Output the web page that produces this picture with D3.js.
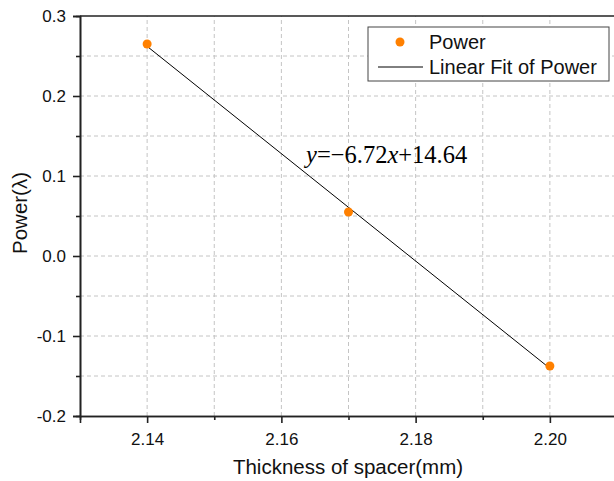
<!DOCTYPE html>
<meta charset="utf-8">
<style>
body { margin: 0; background: #fff; }
text { font-family: Arial, "Liberation Sans", sans-serif; }
</style>
<svg width="614" height="481"></svg>
<script src="https://cdn.jsdelivr.net/npm/d3@7"></script>
<script>

var thickness = [2.14, 2.17, 2.20],
    power = [0.265, 0.055, -0.1375];
var xTicks = [2.14, 2.16, 2.18, 2.20],
    yTicks = [-0.2, -0.1, 0.0, 0.1, 0.2, 0.3];
var legendLabels = ["Power", "Linear Fit of Power"];

var svg = d3.select("svg"),
    margin = {top: 16, left: 80, bottom: 65},
    height = +svg.attr("height") - margin.top - margin.bottom;

var x = d3.scaleLinear().domain([2.13, 2.21]).range([margin.left, margin.left + 537]);
var y = d3.scaleLinear().domain([-0.2, 0.3]).range([margin.top + height, margin.top]);

// least squares fit
var mx = d3.mean(thickness), my = d3.mean(power);
var slope = d3.sum(thickness, function(d, i) { return (d - mx) * (power[i] - my); }) /
            d3.sum(thickness, function(d) { return (d - mx) * (d - mx); });
var icpt = my - slope * mx;

// hyphen instead of unicode minus, like the original
function fmt(f) { return function(d) { return d3.format(f)(d).replace("\u2212", "-"); }; }

// grid
var grid = svg.append("g").attr("stroke", "#c4c4c4").attr("stroke-dasharray", "4,3").attr("stroke-width", 1);
d3.range(2.14, 2.2101, 0.01).forEach(function(v) {
  grid.append("line").attr("x1", x(v)).attr("x2", x(v)).attr("y1", y(-0.2)).attr("y2", y(0.3));
});
d3.range(-0.15, 0.3, 0.05).forEach(function(v) {
  grid.append("line").attr("x1", x(2.13)).attr("x2", x(2.21)).attr("y1", y(v)).attr("y2", y(v));
});

// axes
svg.append("g")
    .attr("transform", "translate(0," + y(-0.2) + ")")
    .call(d3.axisBottom(x).tickValues(xTicks).tickFormat(fmt(".2f")).tickSize(7).tickPadding(10));
svg.append("g")
    .attr("transform", "translate(0," + y(-0.2) + ")")
    .call(d3.axisBottom(x).tickValues([2.15, 2.17, 2.19]).tickFormat("").tickSize(4));
svg.append("g")
    .attr("transform", "translate(" + x(2.13) + ",0)")
    .call(d3.axisLeft(y).tickValues(yTicks).tickFormat(fmt(".1f")).tickSize(7).tickPadding(7));
svg.append("g")
    .attr("transform", "translate(" + x(2.13) + ",0)")
    .call(d3.axisLeft(y).tickValues([-0.15, -0.05, 0.05, 0.15, 0.25]).tickFormat("").tickSize(4));

svg.selectAll(".domain").attr("stroke", "#222").attr("stroke-width", 1.6);
svg.selectAll(".tick line").attr("stroke", "#222").attr("stroke-width", 1.6);
svg.selectAll(".tick text").attr("font-size", 17).attr("fill", "#111")
   .attr("font-family", "Arial, 'Liberation Sans', sans-serif");
svg.append("line").attr("x1", x(2.13)).attr("x2", x(2.21)).attr("y1", y(0.3)).attr("y2", y(0.3))
   .attr("stroke", "#222").attr("stroke-width", 1.6);

// fit line
svg.append("line")
    .attr("x1", x(thickness[0])).attr("y1", y(slope * thickness[0] + icpt))
    .attr("x2", x(thickness[2])).attr("y2", y(slope * thickness[2] + icpt))
    .attr("stroke", "#000").attr("stroke-width", 1);

// points
svg.selectAll("circle.pt").data(thickness).enter().append("circle")
    .attr("class", "pt")
    .attr("cx", function(d) { return x(d); })
    .attr("cy", function(d, i) { return y(power[i]); })
    .attr("r", 4.5)
    .attr("fill", "#ff8000");

// equation
var eq = svg.append("text").attr("x", 306).attr("y", 163)
    .style("font-family", "'Liberation Serif', 'DejaVu Serif', serif").attr("font-size", 24.5);
eq.append("tspan").attr("font-style", "italic").text("y");
eq.append("tspan").text("=\u22126.72");
eq.append("tspan").attr("font-style", "italic").text("x");
eq.append("tspan").text("+14.64");

// axis titles
svg.append("text").attr("x", 348).attr("y", 474).attr("text-anchor", "middle")
    .attr("font-size", 20.5).attr("fill", "#111").text("Thickness of spacer(mm)");
svg.append("text").attr("transform", "translate(27,213) rotate(-90)")
    .attr("text-anchor", "middle").attr("font-size", 20.5).attr("fill", "#111").text("Power(\u03bb)");

// legend
var lg = svg.append("g").attr("transform", "translate(368,27)");
lg.append("rect").attr("width", 241).attr("height", 54).attr("fill", "#fff")
  .attr("stroke", "#444").attr("stroke-width", 1);
lg.append("circle").attr("cx", 32).attr("cy", 15).attr("r", 4.5).attr("fill", "#ff8000");
lg.append("line").attr("x1", 10).attr("x2", 55).attr("y1", 40).attr("y2", 40).attr("stroke", "#000");
lg.selectAll("text.lab").data(legendLabels).enter().append("text")
  .attr("class", "lab")
  .attr("x", 61).attr("y", function(d, i) { return 22 + i * 25; })
  .attr("font-size", 20).attr("fill", "#111").text(function(d) { return d; });

</script>
